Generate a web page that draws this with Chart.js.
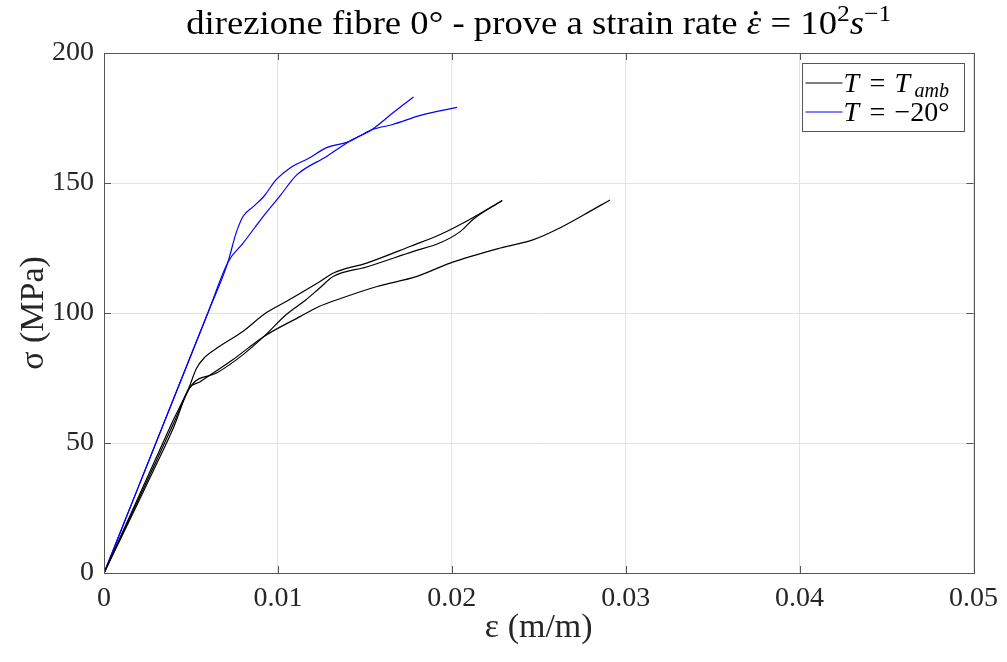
<!DOCTYPE html>
<html>
<head>
<meta charset="utf-8">
<title>direzione fibre 0°</title>
<script src="https://cdn.jsdelivr.net/npm/chart.js@4.4.1/dist/chart.umd.min.js"></script>
<style>
  html, body { margin: 0; padding: 0; background: #fff; }
  #wrap { width: 1007px; height: 662px; }
</style>
</head>
<body>
<div id="wrap"><canvas id="chartProve" width="1007" height="662"></canvas></div>
<script>
// --- dati (deformazione m/m, tensione MPa) ---
// T = T_amb, tre prove
const ambStrain1 = [0, 0.001, 0.002, 0.003, 0.004, 0.0049, 0.0053, 0.0058, 0.0065, 0.008, 0.0093, 0.0105, 0.0124, 0.0132, 0.0151, 0.0176, 0.0193, 0.021, 0.0229];
const ambStress1 = [0, 14.8, 29.5, 44.3, 59, 71.5, 78.5, 83, 86.5, 93, 100, 104.5, 112, 115.4, 119.2, 125.6, 130.1, 135.9, 143.3];

const ambStrain2 = [0, 0.001, 0.002, 0.003, 0.004, 0.005, 0.0065, 0.008, 0.0092, 0.0105, 0.0116, 0.0124, 0.0132, 0.0151, 0.0178, 0.0193, 0.0205, 0.0212, 0.0229];
const ambStress2 = [0, 14.3, 28.6, 43, 57.5, 72, 77, 84, 91, 99.5, 105, 109.6, 114.1, 117.7, 123.7, 126.9, 131.4, 135.9, 143.3];

const ambStrain3 = [0, 0.001, 0.002, 0.003, 0.004, 0.0049, 0.0055, 0.0074, 0.0092, 0.0113, 0.0124, 0.0134, 0.0157, 0.018, 0.0199, 0.0228, 0.0247, 0.026, 0.0276, 0.0291];
const ambStress3 = [0, 13.8, 27.6, 41.6, 56, 71, 73.5, 82, 91, 98.7, 102.6, 105.1, 110.2, 114.1, 119.2, 125, 128.2, 132, 137.8, 143.5];

// T = -20°, due prove
const coldStrain1 = [0, 0.002, 0.004, 0.006, 0.00715, 0.008, 0.00916, 0.0101, 0.0111, 0.0128, 0.0141, 0.0154, 0.0166, 0.0178];
const coldStress1 = [0, 33.5, 67, 100.5, 119.8, 126.9, 137.2, 144.9, 153.2, 160.2, 166, 170.5, 176.9, 183.1];

const coldStrain2 = [0, 0.002, 0.004, 0.006, 0.0071, 0.0076, 0.008, 0.0086, 0.0092, 0.0099, 0.0107, 0.0118, 0.0128, 0.014, 0.0154, 0.0166, 0.0182, 0.0203];
const coldStress2 = [0, 33.5, 67, 100.5, 119, 130.8, 137.2, 141, 144.9, 151.3, 155.8, 159.6, 163.6, 165.7, 170.5, 172.5, 176, 179.1];

const xTicks = [0, 0.01, 0.02, 0.03, 0.04, 0.05];
const yTicks = [0, 50, 100, 150, 200];

const serif = "'Liberation Serif', 'DejaVu Serif', serif";
const axisInk = "#555555";
const textInk = "#262626";

function toPoints(xs, ys) {
    return xs.map((x, i) => ({ x: x, y: ys[i] }));
}

function curve(xs, ys, color) {
    return {
        data: toPoints(xs, ys),
        borderColor: color,
        backgroundColor: color,
        borderWidth: 1.2,
        pointRadius: 0,
        fill: false,
        cubicInterpolationMode: "monotone"
    };
}

// titolo con epsilon puntato ed esponenti
const titlePlugin = {
    id: "titoloMisto",
    afterDraw(chart) {
        const ctx = chart.ctx;
        const size = 33;
        const sup = Math.round(size * 0.7);
        const pieces = [
            { t: "direzione fibre 0° - prove a strain rate ", f: size + "px " + serif, dy: 0 },
            { t: "ε", f: "italic " + size + "px " + serif, dy: 0, dot: true },
            { t: " = 10", f: size + "px " + serif, dy: 0 },
            { t: "2", f: sup + "px " + serif, dy: -13 },
            { t: "s", f: "italic " + size + "px " + serif, dy: 0 },
            { t: "−1", f: sup + "px " + serif, dy: -13 }
        ];
        ctx.save();
        let total = 0;
        pieces.forEach(p => { ctx.font = p.f; p.w = ctx.measureText(p.t).width; total += p.w; });
        // il font TeX originale è più largo: allargo un po'
        const targetW = 705;
        const sx = targetW / total;
        const area = chart.chartArea;
        const cx = (area.left + area.right) / 2;
        const base = 34;
        ctx.translate(cx - targetW / 2, 0);
        ctx.scale(sx, 1);
        let x = 0;
        ctx.fillStyle = "#000";
        ctx.textBaseline = "alphabetic";
        ctx.textAlign = "left";
        pieces.forEach(p => {
            ctx.font = p.f;
            ctx.fillText(p.t, x, base + p.dy);
            if (p.dot) {
                ctx.beginPath();
                ctx.arc(x + p.w * 0.62, base - 21, 1.9, 0, Math.PI * 2);
                ctx.fill();
            }
            x += p.w;
        });
        ctx.restore();
    }
};

// box attorno agli assi + tacche verso l'interno
const boxPlugin = {
    id: "boxAssi",
    afterDatasetsDraw(chart) {
        const ctx = chart.ctx;
        const a = chart.chartArea;
        const sx = chart.scales.x, sy = chart.scales.y;
        const len = 7;
        ctx.save();
        ctx.strokeStyle = axisInk;
        ctx.lineWidth = 1;
        ctx.beginPath();
        xTicks.forEach(v => {
            const px = Math.round(sx.getPixelForValue(v)) + 0.5;
            ctx.moveTo(px, a.bottom); ctx.lineTo(px, a.bottom - len);
            ctx.moveTo(px, a.top); ctx.lineTo(px, a.top + len);
        });
        yTicks.forEach(v => {
            const py = Math.round(sy.getPixelForValue(v)) + 0.5;
            ctx.moveTo(a.left, py); ctx.lineTo(a.left + len, py);
            ctx.moveTo(a.right, py); ctx.lineTo(a.right - len, py);
        });
        ctx.stroke();
        ctx.strokeRect(Math.round(a.left) + 0.5, Math.round(a.top) + 0.5,
                       Math.round(a.right - a.left), Math.round(a.bottom - a.top));
        ctx.restore();
    }
};

// legenda in stile MATLAB (prima curva nera, prima curva blu)
const legendPlugin = {
    id: "legendaTex",
    afterDraw(chart) {
        const ctx = chart.ctx;
        const a = chart.chartArea;
        const w = 162, h = 68;
        const bx = a.right - 10 - w, by = a.top + 10;
        const entries = [chart.data.datasets[0], chart.data.datasets[3]];
        const fs = 28;
        const it = "italic " + fs + "px " + serif;
        const rm = fs + "px " + serif;
        ctx.save();
        ctx.fillStyle = "#fff";
        ctx.fillRect(bx, by, w, h);
        ctx.strokeStyle = axisInk;
        ctx.lineWidth = 1;
        ctx.strokeRect(Math.round(bx) + 0.5, Math.round(by) + 0.5, w, h);
        entries.forEach((ds, i) => {
            const ly = by + 20 + i * 29;
            ctx.strokeStyle = ds.borderColor;
            ctx.lineWidth = 1.2;
            ctx.beginPath();
            ctx.moveTo(bx + 4, ly);
            ctx.lineTo(bx + 41, ly);
            ctx.stroke();
            const base = ly + 9;
            ctx.fillStyle = "#000";
            ctx.textBaseline = "alphabetic";
            ctx.font = it;
            ctx.fillText("T", bx + 42, base);
            ctx.font = rm;
            ctx.fillText("=", bx + 68, base);
            if (i === 0) {
                ctx.font = it;
                ctx.fillText("T", bx + 93, base);
                ctx.font = "italic 20px " + serif;
                ctx.fillText("amb", bx + 113, base + 5);
            } else {
                ctx.fillText("−20°", bx + 93, base);
            }
        });
        ctx.restore();
    }
};

document.addEventListener("DOMContentLoaded", function () {
    const ctx = document.getElementById("chartProve").getContext("2d");

    new Chart(ctx, {
        type: "line",
        data: {
            datasets: [
                curve(ambStrain1, ambStress1, "#000000"),
                curve(ambStrain2, ambStress2, "#000000"),
                curve(ambStrain3, ambStress3, "#000000"),
                curve(coldStrain1, coldStress1, "#0000ff"),
                curve(coldStrain2, coldStress2, "#0000ff")
            ]
        },
        options: {
            responsive: false,
            animation: false,
            parsing: false,
            layout: { padding: { top: 53, right: 33, left: 0, bottom: 0 } },
            plugins: {
                legend: { display: false },
                title: { display: false },
                tooltip: { enabled: false }
            },
            scales: {
                x: {
                    type: "linear",
                    min: 0,
                    max: 0.05,
                    afterFit: s => { s.height = 89; },
                    afterBuildTicks: s => { s.ticks = xTicks.map(v => ({ value: v })); },
                    grid: { color: "#e3e3e3", drawTicks: false },
                    border: { display: false },
                    ticks: {
                        padding: 9,
                        maxRotation: 0,
                        autoSkip: false,
                        color: textInk,
                        font: { family: serif, size: 28 },
                        callback: v => (v === 0 ? "0" : v.toFixed(2))
                    },
                    title: {
                        display: true,
                        text: "ε (m/m)",
                        color: textInk,
                        font: { family: serif, size: 34 },
                        padding: { top: 0, bottom: 14 }
                    }
                },
                y: {
                    type: "linear",
                    min: 0,
                    max: 200,
                    afterFit: s => { s.width = 104; },
                    afterBuildTicks: s => { s.ticks = yTicks.map(v => ({ value: v })); },
                    grid: { color: "#e3e3e3", drawTicks: false },
                    border: { display: false },
                    ticks: {
                        padding: 10,
                        autoSkip: false,
                        color: textInk,
                        font: { family: serif, size: 28 }
                    },
                    title: {
                        display: true,
                        text: "σ (MPa)",
                        color: textInk,
                        font: { family: serif, size: 34 },
                        padding: { top: 14, bottom: 0 }
                    }
                }
            }
        },
        plugins: [titlePlugin, boxPlugin, legendPlugin]
    });
});
</script>
</body>
</html>
